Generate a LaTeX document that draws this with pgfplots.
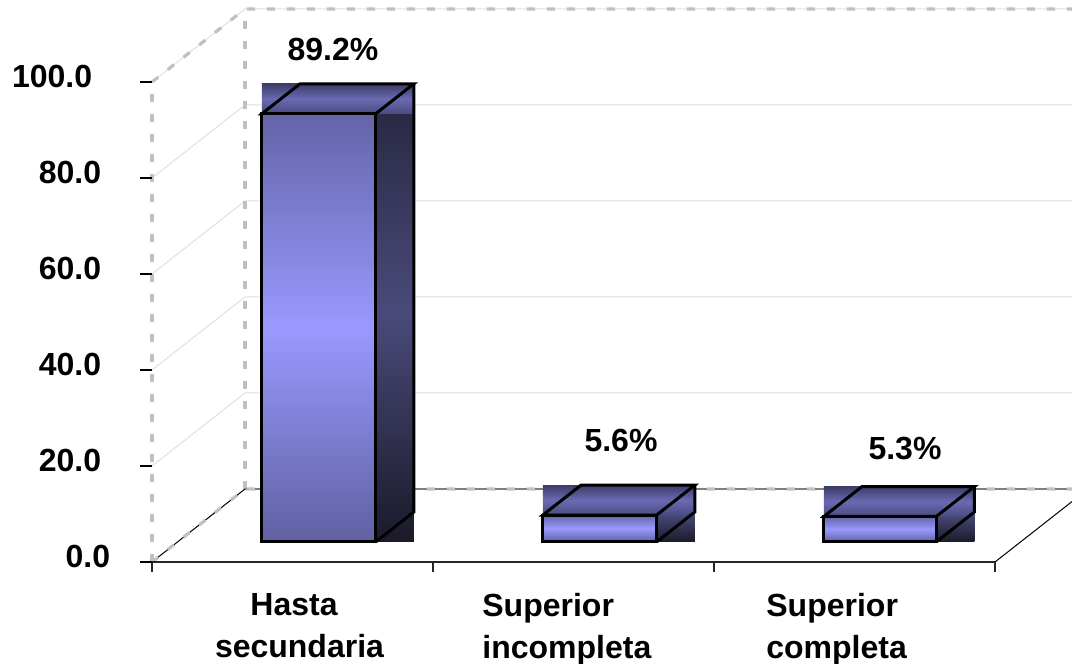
\documentclass[border=0pt]{standalone}
\usepackage{pgfplots}
\pgfplotsset{compat=1.18}
\usepackage{fontspec}
\setmainfont{Liberation Sans}
\definecolor{gridc}{HTML}{E0E0E0}
\definecolor{dashc}{HTML}{C0C0C0}
\definecolor{floorback}{HTML}{808080}
\definecolor{fTop}{HTML}{6464A8}
\definecolor{fMid}{HTML}{9999FF}
\definecolor{fBot}{HTML}{6060A2}
\definecolor{rTop}{HTML}{25253D}
\definecolor{rMid}{HTML}{4A4A7A}
\definecolor{rBot}{HTML}{1A1A2A}
\definecolor{tBack}{HTML}{3C3C68}
\definecolor{tMid}{HTML}{6A6AB4}
\definecolor{tFront}{HTML}{4A4A80}
\tikzset{
  walldash/.style={dashc, line width=1.6pt, dash pattern=on 4pt off 6pt},
  barline/.style={draw=black, line width=1.5pt, line join=miter},
  frontshade/.style={top color=fTop, bottom color=fBot, middle color=fMid},
  rightshade/.style={top color=rTop, bottom color=rBot, middle color=rMid},
  topshade/.style={top color=tBack, bottom color=tFront, middle color=tMid},
}
\begin{document}
\begin{tikzpicture}[font=\bfseries\fontsize{16}{21}\selectfont]
\begin{axis}[
  x={(140.5pt,0pt)}, y={(46.5pt,36.5pt)}, z={(0pt,2.4pt)},
  xmin=0, xmax=3, ymin=0, ymax=1, zmin=0, zmax=100,
  hide axis, clip=false,
]
\coordinate (O) at (axis cs:0,0,0);
% wall gridlines
\pgfplotsinvokeforeach{20,40,60,80,100}{
  \draw[gridc, line width=0.5pt] (axis cs:0,0,#1) -- (axis cs:0,1,#1) -- (axis cs:3,1,#1);
}
% wall borders
\draw[walldash] (axis cs:0,0,100) -- (axis cs:0,1,100) -- (axis cs:3,1,100);
\draw[walldash] (axis cs:0,0,0) -- (axis cs:0,0,100);
\draw[walldash] (axis cs:0,1,0) -- (axis cs:0,1,100);
% floor
\draw[black, line width=0.5pt] (axis cs:0,0,0) -- (axis cs:0,1,0);
\draw[floorback, line width=0.8pt] (axis cs:0,1,0) -- (axis cs:3,1,0);
\draw[walldash] (axis cs:0,0,0) -- (axis cs:0,1,0) -- (axis cs:3,1,0);
\draw[black, line width=0.5pt] (axis cs:3,0,0) -- (axis cs:3,1,0);
\draw[black!85, line width=0.7pt] (axis cs:0,0,0) -- (axis cs:3,0,0);
% ticks
\pgfplotsinvokeforeach{0,1,2,3}{
  \draw[black!85, line width=0.6pt] (axis cs:#1,0,0) -- ++(0pt,-5pt);
}
\pgfplotsinvokeforeach{0,20,40,60,80,100}{
  \draw[black, line width=0.6pt] (axis cs:0,0,#1) -- ++(-6pt,0pt);
}
% ---- bar 1: Hasta secundaria, 89.2
\path[rightshade] (axis cs:0.705,0.275,0) rectangle (axis cs:0.705,0.685,89.2);
\path[topshade] (axis cs:0.30,0.275,89.2) rectangle (axis cs:0.705,0.685,89.2);
\addplot3[barline] coordinates {(0.705,0.275,0) (0.705,0.685,0) (0.705,0.685,89.2)};
\addplot3[barline] coordinates {(0.30,0.275,89.2) (0.705,0.275,89.2) (0.705,0.685,89.2) (0.30,0.685,89.2)} -- cycle;
\addplot3[barline, frontshade] coordinates {(0.30,0.275,0) (0.705,0.275,0) (0.705,0.275,89.2) (0.30,0.275,89.2)} -- cycle;
% ---- bar 2: Superior incompleta, 5.6
\path[rightshade] (axis cs:1.705,0.275,0) rectangle (axis cs:1.705,0.685,5.6);
\path[topshade] (axis cs:1.30,0.275,5.6) rectangle (axis cs:1.705,0.685,5.6);
\addplot3[barline] coordinates {(1.705,0.275,0) (1.705,0.685,0) (1.705,0.685,5.6)};
\addplot3[barline] coordinates {(1.30,0.275,5.6) (1.705,0.275,5.6) (1.705,0.685,5.6) (1.30,0.685,5.6)} -- cycle;
\addplot3[barline, frontshade] coordinates {(1.30,0.275,0) (1.705,0.275,0) (1.705,0.275,5.6) (1.30,0.275,5.6)} -- cycle;
% ---- bar 3: Superior completa, 5.3
\path[rightshade] (axis cs:2.70,0.275,0) rectangle (axis cs:2.70,0.685,5.3);
\path[topshade] (axis cs:2.30,0.275,5.3) rectangle (axis cs:2.70,0.685,5.3);
\addplot3[barline] coordinates {(2.70,0.275,0) (2.70,0.685,0) (2.70,0.685,5.3)};
\addplot3[barline] coordinates {(2.30,0.275,5.3) (2.70,0.275,5.3) (2.70,0.685,5.3) (2.30,0.685,5.3)} -- cycle;
\addplot3[barline, frontshade] coordinates {(2.30,0.275,0) (2.70,0.275,0) (2.70,0.275,5.3) (2.30,0.275,5.3)} -- cycle;
% value labels
\node[inner sep=0pt, xshift=-3pt, yshift=24.15pt] at (axis cs:0.5,0.5,89.2) {89.2\%};
\node[inner sep=0pt, xshift=0.5pt, yshift=29.3pt] at (axis cs:1.5,0.5,5.6) {5.6\%};
\node[inner sep=0pt, xshift=2pt, yshift=26pt] at (axis cs:2.5,0.5,5.3) {5.3\%};
% value axis tick labels
\node[anchor=east, inner sep=0pt, xshift=-29.75pt, yshift=2.75pt] at (axis cs:0,0,100) {100.0};
\node[anchor=east, inner sep=0pt, xshift=-25.25pt, yshift=2.75pt] at (axis cs:0,0,80) {80.0};
\node[anchor=east, inner sep=0pt, xshift=-25.25pt, yshift=2.75pt] at (axis cs:0,0,60) {60.0};
\node[anchor=east, inner sep=0pt, xshift=-25.25pt, yshift=2.75pt] at (axis cs:0,0,40) {40.0};
\node[anchor=east, inner sep=0pt, xshift=-25.25pt, yshift=2.75pt] at (axis cs:0,0,20) {20.0};
\node[anchor=east, inner sep=0pt, xshift=-20.75pt, yshift=2.75pt] at (axis cs:0,0,0) {0.0};
% category labels
\node[anchor=north, align=center, inner sep=0pt, xshift=3.5pt, yshift=-15.5pt] at (axis cs:0.5,0,0) {Hasta\hspace*{5.5pt}\\secundaria};
\node[anchor=north west, align=left, inner sep=0pt, xshift=24.5pt, yshift=-15.5pt] at (axis cs:1,0,0) {Superior\\incompleta};
\node[anchor=north west, align=left, inner sep=0pt, xshift=26pt, yshift=-15.5pt] at (axis cs:2,0,0) {Superior\\completa};
\end{axis}
\pgfresetboundingbox
\path[use as bounding box] ([shift={(-76pt,-51pt)}]O) rectangle ([shift={(460pt,281pt)}]O);
\end{tikzpicture}
\end{document}
